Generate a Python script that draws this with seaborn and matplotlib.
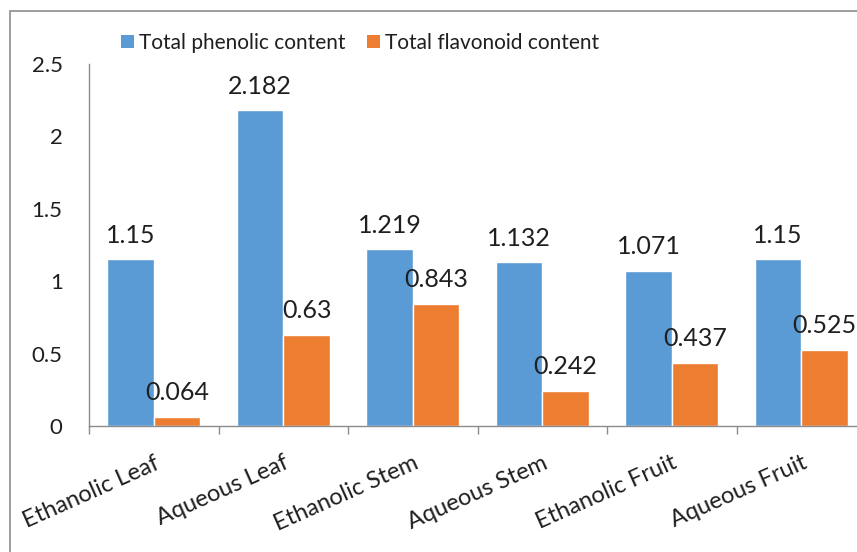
import matplotlib
matplotlib.use("Agg")
import matplotlib.pyplot as plt
from matplotlib.patches import Rectangle, Patch
import seaborn as sns
import pandas as pd

# Extract samples and their measured contents
samples = ["Ethanolic Leaf", "Aqueous Leaf", "Ethanolic Stem",
           "Aqueous Stem", "Ethanolic Fruit", "Aqueous Fruit"]
phenolic = [1.15, 2.182, 1.219, 1.132, 1.071, 1.15]
flavonoid = [0.064, 0.63, 0.843, 0.242, 0.437, 0.525]
series_names = ["Total phenolic content", "Total flavonoid content"]
y_ticks = [0, 0.5, 1, 1.5, 2, 2.5]
y_tick_labels = ["0", "0.5", "1", "1.5", "2", "2.5"]

colors = ["#5B9BD5", "#ED7D31"]
text_color = "#1F1F1F"
axis_gray = "#8C8C8C"

sns.set_theme(style="white")
plt.rcParams["font.family"] = ["Lato", "DejaVu Sans"]
tick_fs = 17
label_fs = 18
legend_fs = 15

df = pd.DataFrame({
    "sample": samples * 2,
    "value": phenolic + flavonoid,
    "series": [series_names[0]] * len(samples) + [series_names[1]] * len(samples),
})

W, H = 857, 552
fig = plt.figure(figsize=(W / 100, H / 100), dpi=100)
ax = fig.add_axes([89 / W, (H - 426) / H, (866 - 89) / W, (426 - 64) / H])

sns.barplot(data=df, x="sample", y="value", hue="series", order=samples,
            hue_order=series_names, palette=colors, width=0.72, gap=0,
            saturation=1, errorbar=None, ax=ax, legend=False)

for container, vals in zip(ax.containers, [phenolic, flavonoid]):
    ax.bar_label(container, labels=[f"{v:g}" for v in vals], padding=9,
                 fontsize=label_fs, color=text_color)

ax.set_xlim(-0.5, len(samples) - 0.5)
ax.set_ylim(0, 2.5)
ax.set_yticks(y_ticks)
ax.set_yticklabels(y_tick_labels)
ax.set_xlabel("")
ax.set_ylabel("")

# Category boundary ticks on the x axis
ax.set_xticks([i - 0.5 for i in range(len(samples) + 1)], minor=True)
ax.tick_params(axis="x", which="minor", length=6, width=1, color=axis_gray,
               direction="out", bottom=True)
ax.tick_params(axis="x", which="major", length=0, pad=19,
               labelsize=tick_fs, labelcolor=text_color)
ax.tick_params(axis="y", length=0, pad=19, labelsize=tick_fs - 1, labelcolor=text_color)
for lab in ax.get_xticklabels():
    lab.set_rotation(24)
    lab.set_ha("right")
    lab.set_rotation_mode("anchor")

sns.despine(ax=ax, top=True, right=True)
for side in ("left", "bottom"):
    ax.spines[side].set_color(axis_gray)
    ax.spines[side].set_linewidth(1)
ax.grid(False)

handles = [Patch(facecolor=c, edgecolor="none") for c in colors]
fig.legend(handles, series_names, loc="center", bbox_to_anchor=(360 / W, (H - 43) / H),
           ncol=2, frameon=False, fontsize=legend_fs, handlelength=0.62, handleheight=0.62,
           handletextpad=0.25, columnspacing=1.0, labelcolor=text_color)

# Chart area border
fig.patches.append(Rectangle((10 / W, -0.1), 1.2, (H - 11) / H + 0.1,
                             transform=fig.transFigure, fill=False,
                             edgecolor=axis_gray, linewidth=1.2))

fig.savefig("out.png", dpi=100)
